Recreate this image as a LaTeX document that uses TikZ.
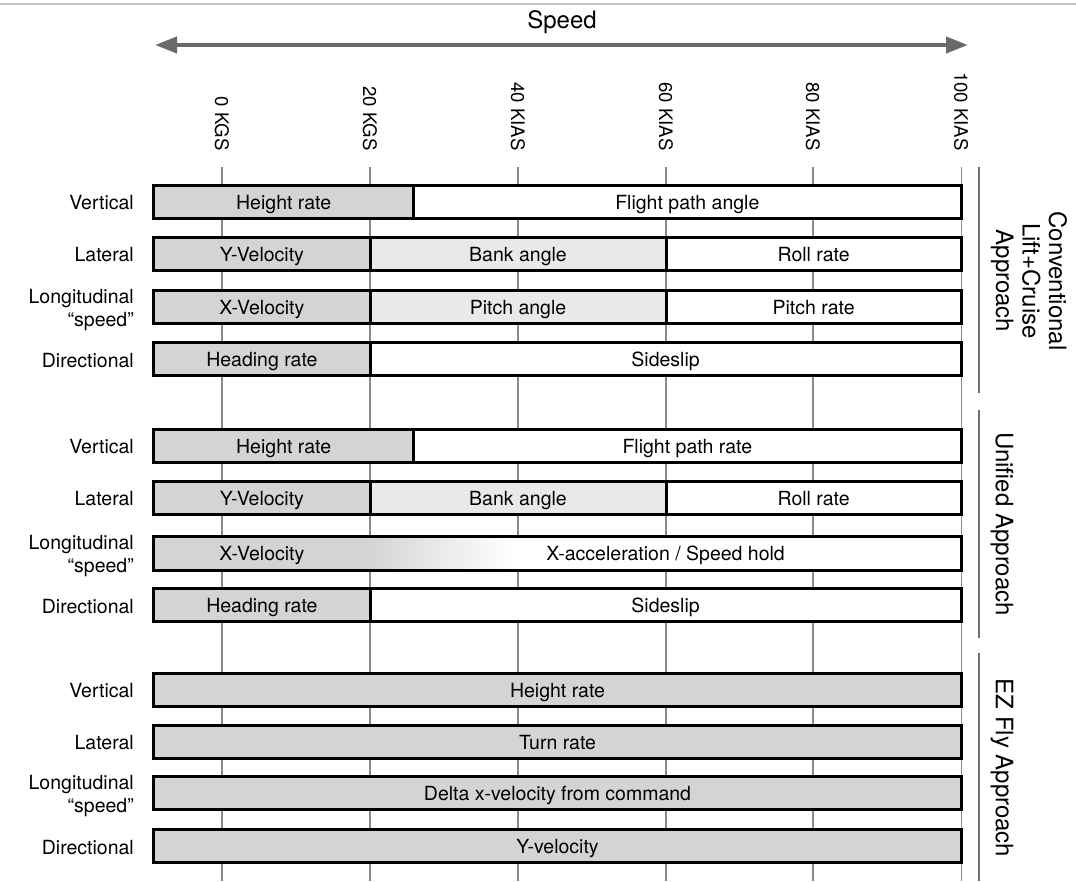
\documentclass[tikz,border=0pt]{standalone}
\usepackage{fontspec}
\setmainfont{TeX Gyre Heros}
\usetikzlibrary{arrows.meta}
\definecolor{dg}{HTML}{D4D4D4}
\definecolor{lg}{HTML}{E9E9E9}
\definecolor{gridc}{HTML}{8A8A8A}
\definecolor{sepc}{HTML}{707070}
\definecolor{arrc}{HTML}{6A6A6A}
\definecolor{topc}{HTML}{C4C4C4}
\newcommand\bodyfnt{\fontsize{19.5}{23}\selectfont}
\newcommand\grpfnt{\fontsize{24}{26.5}\selectfont}
\newcommand\tickfnt{\fontsize{18.6}{22}\selectfont}
\tikzset{
  bar/.style={draw=black, line width=3pt, minimum height=33pt, inner sep=0pt, anchor=center, text height=15.2pt, text depth=0pt, font=\bodyfnt},
  barnd/.style={draw=none, minimum height=33pt, inner sep=0pt, anchor=center, text height=15.2pt, text depth=0pt, font=\bodyfnt},
  rowlbl/.style={anchor=east, align=right, inner sep=0pt, font=\bodyfnt},
  ticklbl/.style={rotate=-90, anchor=east, inner sep=0pt, font=\tickfnt},
  grplbl/.style={rotate=-90, align=center, inner sep=0pt, font=\grpfnt},
  gridln/.style={draw=gridc, line width=1.3pt},
  sepln/.style={draw=sepc, line width=2.5pt},
  biarrow/.style={draw=arrc, line width=4pt, {Triangle[length=22pt,width=16pt]}-{Triangle[length=22pt,width=16pt]}}
}
\begin{document}
\begin{tikzpicture}[x=1pt,y=-1pt]
\useasboundingbox (0,0) rectangle (1076,881);
% top rule
\draw[topc, line width=2pt] (0,4) -- (1076,4);
% title and arrow
\node[font=\grpfnt, inner sep=0pt] (speed) at (562,22) {Speed};
\coordinate (arrL) at (155,45);
\coordinate (arrR) at (968,45);
\draw[biarrow] (arrL) -- (arrR);
% tick labels
\node[ticklbl] (t0) at (222,151) {0 KGS};
\node[ticklbl] (t20) at (370,151) {20 KGS};
\node[ticklbl] (t40) at (518,151) {40 KIAS};
\node[ticklbl] (t60) at (666,151) {60 KIAS};
\node[ticklbl] (t80) at (813,151) {80 KIAS};
\node[ticklbl] (t100) at (961.2,151) {100 KIAS};
% grid lines
\foreach \gx in {222,370,518,666,813,961.2}
  \draw[gridln] (\gx,167) -- (\gx,881);
% group separators
\draw[sepln] (979,167) -- (979,393);
\draw[sepln] (979,410) -- (979,638);
\draw[sepln] (979,653) -- (979,881);
% group labels
\node[grplbl] (g1) at (1029,281) {Conventional\\Lift+Cruise\\Approach};
\node[grplbl] (g2) at (1002,524) {Unified Approach};
\node[grplbl] (g3) at (1002,768) {EZ Fly Approach};
% row labels
\foreach \ry/\nm in {202.5/a,446.5/b,690.5/c}{
  \node[rowlbl] (vl\nm) at (134,\ry) {Vertical};
}
\foreach \ry/\nm in {254.7/a,498.8/b,742.2/c}{
  \node[rowlbl] (ll\nm) at (134,\ry) {Lateral};
}
\foreach \ry/\nm in {310/a,556.3/b,796.3/c}{
  \node[rowlbl] (gl\nm) at (134,\ry) {Longitudinal\\“speed”};
}
\foreach \ry/\nm in {360.5/a,606.8/b,848/c}{
  \node[rowlbl] (dl\nm) at (134,\ry) {Directional};
}
% ---- group 1
\node[bar, fill=dg, minimum width=259.7pt] (a1) at (283.65,202) {Height rate};
\node[bar, fill=white, minimum width=547.7pt] (a2) at (687.35,202) {Flight path angle};
\node[bar, fill=dg, minimum width=216.2pt] (b1) at (261.9,254.2) {Y-Velocity};
\node[bar, fill=lg, minimum width=296pt] (b2) at (518,254.2) {Bank angle};
\node[bar, fill=white, minimum width=295.2pt] (b3) at (813.6,254.2) {Roll rate};
\node[bar, fill=dg, minimum width=216.2pt] (c1) at (261.9,307) {X-Velocity};
\node[bar, fill=lg, minimum width=296pt] (c2) at (518,307) {Pitch angle};
\node[bar, fill=white, minimum width=295.2pt] (c3) at (813.6,307) {Pitch rate};
\node[bar, fill=dg, minimum width=216.2pt] (d1) at (261.9,358.7) {Heading rate};
\node[bar, fill=white, minimum width=591.2pt] (d2) at (665.6,358.7) {Sideslip};
% ---- group 2
\node[bar, fill=dg, minimum width=259.7pt] (e1) at (283.65,446) {Height rate};
\node[bar, fill=white, minimum width=547.7pt] (e2) at (687.35,446) {Flight path rate};
\node[bar, fill=dg, minimum width=216.2pt] (f1) at (261.9,498.3) {Y-Velocity};
\node[bar, fill=lg, minimum width=296pt] (f2) at (518,498.3) {Bank angle};
\node[bar, fill=white, minimum width=295.2pt] (f3) at (813.6,498.3) {Roll rate};
% gradient bar
\fill[white] (153.8,536.8) rectangle (961.2,569.8);
\fill[dg] (153.8,536.8) rectangle (370,569.8);
\shade[left color=dg, right color=white] (370,536.8) rectangle (512,569.8);
\node[barnd, minimum width=216.2pt] (g1a) at (261.9,553.3) {X-Velocity};
\node[barnd, minimum width=591.2pt] (g1b) at (665.6,553.3) {X-acceleration / Speed hold};
\draw[black, line width=3pt] (g1a.north west) rectangle (g1b.south east);
\node[bar, fill=dg, minimum width=216.2pt] (h1) at (261.9,605) {Heading rate};
\node[bar, fill=white, minimum width=591.2pt] (h2) at (665.6,605) {Sideslip};
% ---- group 3
\node[bar, fill=dg, minimum width=807.4pt] (i1) at (557.5,689.7) {Height rate};
\node[bar, fill=dg, minimum width=807.4pt] (j1) at (557.5,741.7) {Turn rate};
\node[bar, fill=dg, minimum width=807.4pt] (k1) at (557.5,793.3) {Delta x-velocity from command};
\node[bar, fill=dg, minimum width=807.4pt] (l1) at (557.5,846.2) {Y-velocity};
\end{tikzpicture}
\end{document}
